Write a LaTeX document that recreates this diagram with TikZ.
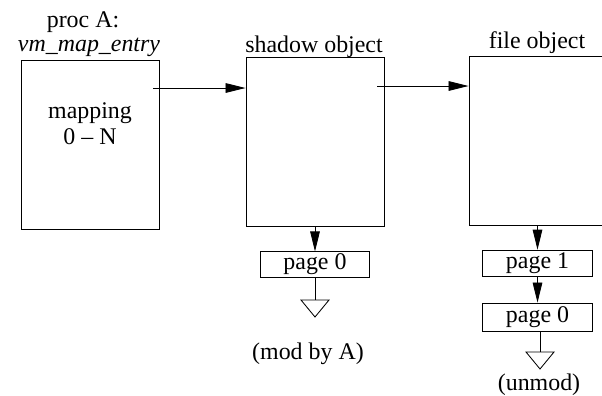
\documentclass[tikz,border=0pt]{standalone}
\usepackage{fontspec}
\setmainfont{Liberation Serif}
\usetikzlibrary{arrows.meta}

\tikzset{
  objbox/.style={draw, line width=0.6pt, minimum width=3.45cm, minimum height=4.225cm, inner sep=0pt},
  pagebox/.style={draw, line width=0.6pt, minimum width=2.74cm, minimum height=0.67cm, inner sep=0pt, font=\fontsize{17}{19}\selectfont},
  ptr/.style={line width=0.6pt, -{Triangle[length=0.5cm,width=0.24cm]}},
  lbl/.style={anchor=base, inner sep=0pt, font=\fontsize{17}{19}\selectfont}
}

\begin{document}
\begin{tikzpicture}[x=0.025cm, y=-0.025cm]
    \useasboundingbox (0,0) rectangle (602,395);

    % the three objects
    \node[objbox] (entryA) at (90,144.5) {};
    \node[objbox] (shadow) at (315,142) {};
    \node[objbox, minimum width=4.3cm] (fileobj) at (555,140.5) {};

    \node[lbl] (procA) at (83,27) {proc A:};
    \node[lbl] (entryname) at (89,51) {\textit{vm\_map\_entry}};
    \node[lbl] (mapping) at (90,118) {mapping};
    \node[lbl] (range) at (90,144) {0 -- N};
    \node[lbl] (shadowname) at (314,52) {shadow object};
    \node[lbl] (filename) at (537,48) {file object};

    % pointers between objects
    \coordinate (ptrA) at (153,88);
    \coordinate (ptrS) at (377,86);
    \draw[ptr] (ptrA) -- (shadow.west |- ptrA);
    \draw[ptr] (ptrS) -- (fileobj.west |- ptrS);

    % pages
    \node[pagebox, minimum height=0.63cm] (pageS) at (315,264.5) {page 0};
    \node[pagebox] (pageF1) at (537.5,263.5) {page 1};
    \node[pagebox, minimum height=0.7cm] (pageF0) at (537.5,317) {page 0};
    \draw[ptr] (shadow.south) -- (pageS.north);
    \draw[ptr] (pageF1.north |- fileobj.south) -- (pageF1.north);
    \draw[ptr] (pageF1.south) -- (pageF0.north);

    % end of the page lists
    \coordinate (nilS) at (315,300);
    \coordinate (nilF) at (540,352);
    \draw[line width=0.6pt] (pageS.south) -- (nilS);
    \draw[line width=0.6pt] (nilS) ++(-14,0) -- ++(28,0) -- ++(-14,17) -- cycle;
    \draw[line width=0.6pt] (pageF0.south -| nilF) -- (nilF);
    \draw[line width=0.6pt] (nilF) ++(-14,0) -- ++(28,0) -- ++(-14,17) -- cycle;

    \node[lbl] (modA) at (308,359) {(mod by A)};
    \node[lbl] (unmod) at (539,390) {(unmod)};
\end{tikzpicture}
\end{document}
